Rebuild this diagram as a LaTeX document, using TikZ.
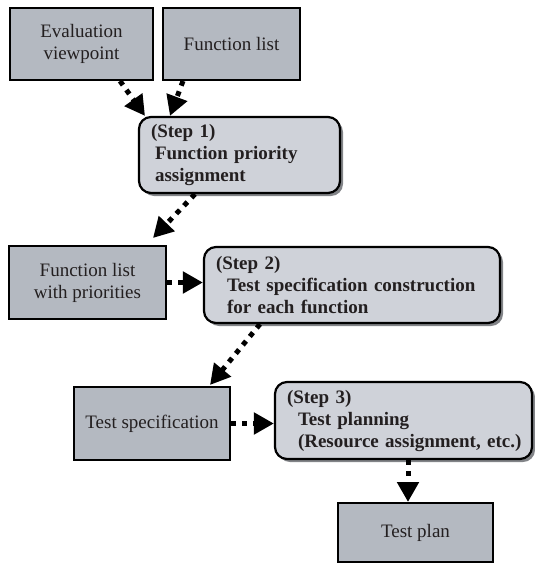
\documentclass[tikz,border=0pt]{standalone}
\usepackage{fontspec}
\setmainfont{Liberation Serif}
\usetikzlibrary{arrows.meta,shadows}
\definecolor{boxdark}{RGB}{180,185,193}
\definecolor{boxlight}{RGB}{207,210,217}
\definecolor{shadowgray}{RGB}{130,132,136}
\definecolor{ink}{RGB}{35,31,32}
\tikzset{
  plainbox/.style={draw=black, line width=2pt, fill=boxdark, text=ink, inner sep=0pt,
    align=center, font=\fontsize{19}{22}\selectfont},
  stepbox/.style={draw=black, line width=2.2pt, fill=boxlight, text=ink, rounded corners=12pt,
    inner xsep=12pt, inner ysep=0pt, align=left, font=\fontsize{19}{22}\selectfont\bfseries,
    drop shadow={shadow xshift=3pt, shadow yshift=-3pt, fill=shadowgray, opacity=1}},
  flow/.style={draw=black, line width=5pt, dash pattern=on 5pt off 6pt,
    -{Triangle[length=20pt,width=21pt]}},
}
\begin{document}
\begin{tikzpicture}[x=1pt,y=-1pt]
\useasboundingbox (0,0) rectangle (535,565);
\node[plainbox, minimum width=143pt, minimum height=72pt] (ev) at (81.5,44) {Evaluation\\viewpoint};
\node[plainbox, minimum width=137pt, minimum height=72pt] (fl) at (231.5,44) {Function list};
\node[stepbox, text width=177pt, minimum height=76pt] (s1) at (239.5,155)
  {(Step 1)\\\hspace*{4pt}Function priority\\\hspace*{4pt}assignment};
\node[plainbox, minimum width=157pt, minimum height=73pt] (flp) at (87.5,282.5) {Function list\\with priorities};
\node[stepbox, text width=272pt, minimum height=76pt] (s2) at (352,285)
  {(Step 2)\\\hspace*{11pt}Test specification construction\\\hspace*{11pt}for each function};
\node[plainbox, minimum width=156pt, minimum height=73pt] (ts) at (152,423.5) {Test specification};
\node[stepbox, inner xsep=4pt, text width=249pt, minimum height=77pt] (s3) at (403.5,420.5)
  {\hspace*{8pt}(Step 3)\\\hspace*{19pt}Test planning\\\hspace*{19pt}(Resource assignment, etc.)};
\node[plainbox, minimum width=155pt, minimum height=59pt] (tp) at (415.5,532.5) {Test plan};

\draw[flow] ([xshift=38.5pt]ev.south) -- ([xshift=-94.5pt]s1.north);
\draw[flow] ([xshift=-48.5pt]fl.south) -- ([xshift=-69.5pt]s1.north);
\draw[flow] ([xshift=-44.5pt]s1.south) -- ([xshift=65.5pt,yshift=7pt]flp.north);
\draw[flow] (flp.east) -- (flp.east -| s2.west);
\draw[flow] ([xshift=-92pt]s2.south) -- ([xshift=58pt,yshift=1pt]ts.north);
\draw[flow] (ts.east) -- (ts.east -| s3.west);
\draw[flow] ([xshift=4.5pt]s3.south) -- ([xshift=4.5pt]s3.south |- tp.north);
\end{tikzpicture}
\end{document}
